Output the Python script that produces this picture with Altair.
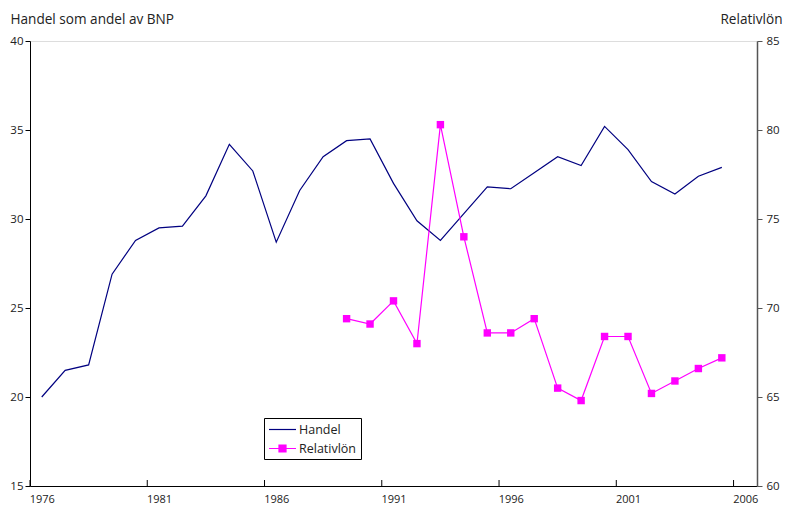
import altair as alt
import pandas as pd

years_handel = list(range(1976, 2006))
handel = [20.0, 21.5, 21.8, 26.9, 28.8, 29.5, 29.6, 31.3, 34.2, 32.7,
          28.7, 31.6, 33.5, 34.4, 34.5, 32.0, 29.9, 28.8, 30.3, 31.8,
          31.7, 32.6, 33.5, 33.0, 35.2, 33.9, 32.1, 31.4, 32.4, 32.9]
years_rel = list(range(1989, 2006))
relativlon = [69.4, 69.1, 70.4, 68.0, 80.3, 74.0, 68.6, 68.6, 69.4, 65.5,
              64.8, 68.4, 68.4, 65.2, 65.9, 66.6, 67.2]
tick_years = [1976, 1981, 1986, 1991, 1996, 2001, 2006]
left_ticks = [15, 20, 25, 30, 35, 40]
right_ticks = [60, 65, 70, 75, 80, 85]
series_names = ["Handel", "Relativlön"]
series_colors = ["#000080", "#FF00FF"]

df_h = pd.DataFrame({"year": years_handel, "value": handel, "series": series_names[0]})
df_r = pd.DataFrame({"year": years_rel, "value": relativlon, "series": series_names[1]})
df_t = pd.DataFrame({"pos": [y - 0.5 for y in tick_years]})

W, H = 727, 445
FONT = "Open Sans"
TXT = "#222222"

x_scale = alt.Scale(domain=[tick_years[0] - 0.5, tick_years[-1] + 0.5], nice=False, zero=False)
color_scale = alt.Scale(domain=series_names, range=series_colors)

x_axis = alt.Axis(values=tick_years, format="d", ticks=False, grid=False, title=None,
                  domainColor="black", domainWidth=1, labelPadding=7,
                  labelFontSize=11, labelFont=FONT, labelColor=TXT)

legend = alt.Legend(
    title=None, orient="none", legendX=234, legendY=377,
    strokeColor="black", padding=4, fillColor="white",
    symbolType=alt.ExprRef("datum.value == 'Handel' ? 'M-2,0H2' : 'M-2,0H2M-0.52,-0.52H0.52V0.52H-0.52Z'"),
    symbolSize=182, symbolStrokeWidth=1.2, symbolFillColor="#FF00FF",
    symbolOffset=7, labelOffset=9,
    labelFontSize=12.5, labelFont=FONT, labelColor=TXT, rowPadding=5,
)

handel_chart = alt.Chart(df_h).mark_line(strokeWidth=1.2).encode(
    x=alt.X("year:Q", scale=x_scale, axis=x_axis),
    y=alt.Y("value:Q", scale=alt.Scale(domain=[left_ticks[0], left_ticks[-1]], nice=False, zero=False),
            axis=alt.Axis(orient="left", values=left_ticks, title="Handel som andel av BNP",
                          titleAngle=0, titleX=-20, titleY=-18, titleAlign="left",
                          titleBaseline="alphabetic", titleFontSize=13.6, titleFontWeight="normal",
                          titleFont=FONT, titleColor=TXT, grid=False, tickSize=5,
                          tickColor="black", domainColor="black", labelPadding=2,
                          labelFontSize=11.5, labelFont=FONT, labelColor=TXT)),
    color=alt.Color("series:N", scale=color_scale, legend=legend),
)

rel_chart = alt.Chart(df_r).mark_line(
    strokeWidth=1.2,
    point=alt.OverlayMarkDef(shape="square", size=55, filled=True, opacity=1),
).encode(
    x=alt.X("year:Q", scale=x_scale, axis=x_axis),
    y=alt.Y("value:Q", scale=alt.Scale(domain=[right_ticks[0], right_ticks[-1]], nice=False, zero=False),
            axis=alt.Axis(orient="right", values=right_ticks, title="Relativlön",
                          titleAngle=0, titleX=25, titleY=-18, titleAlign="right",
                          titleBaseline="alphabetic", titleFontSize=13.6, titleFontWeight="normal",
                          titleFont=FONT, titleColor=TXT, grid=False, tickSize=5,
                          tickColor="#555555", domainColor="#555555", domainWidth=1.5,
                          labelPadding=4, labelFontSize=11.5, labelFont=FONT, labelColor=TXT)),
    color=alt.Color("series:N", scale=color_scale, legend=legend),
)

tick_chart = alt.Chart(df_t).mark_rule(color="black", strokeWidth=1).encode(
    x=alt.X("pos:Q", scale=x_scale, axis=x_axis),
    y=alt.value(H),
    y2=alt.value(H - 6),
)

chart = alt.layer(handel_chart, rel_chart, tick_chart).resolve_scale(
    y="independent"
).properties(
    width=W, height=H,
    autosize=alt.AutoSizeParams(type="none"),
    padding={"left": 22, "top": 33, "right": 26, "bottom": 20},
).configure_view(
    stroke="#808080", strokeWidth=1
).configure(background="white")

chart.save("out.html", embed_options={"renderer": "svg", "actions": False})
